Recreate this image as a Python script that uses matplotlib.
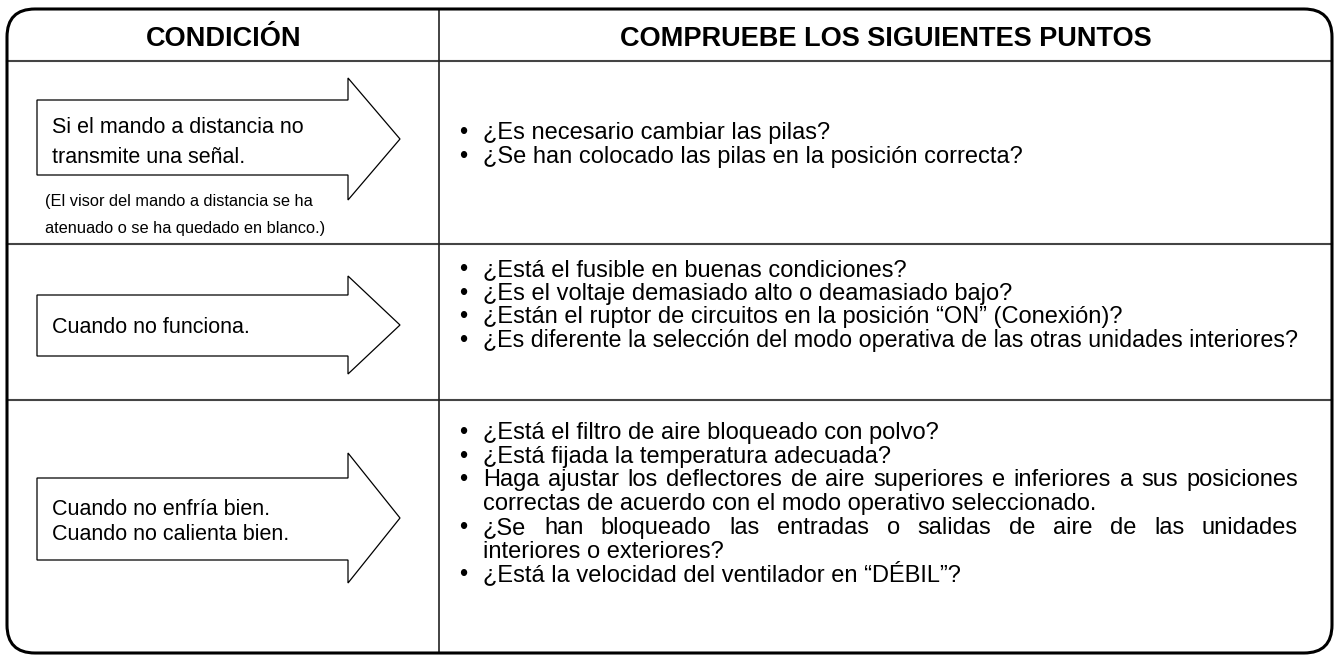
import matplotlib
matplotlib.use('Agg')
import matplotlib.pyplot as plt
from matplotlib.patches import FancyBboxPatch, Polygon

plt.rcParams['font.family'] = ['Liberation Sans', 'DejaVu Sans']

# table content
headers = ['CONDICIÓN', 'COMPRUEBE LOS SIGUIENTES PUNTOS']
conditions = [
    ['Si el mando a distancia no', 'transmite una señal.'],
    ['Cuando no funciona.'],
    ['Cuando no enfría bien.', 'Cuando no calienta bien.'],
]
notes = ['(El visor del mando a distancia se ha', 'atenuado o se ha quedado en blanco.)']
# each check: list of lines, True = justified line
checks = [
    [[('¿Es necesario cambiar las pilas?', False)],
     [('¿Se han colocado las pilas en la posición correcta?', False)]],
    [[('¿Está el fusible en buenas condiciones?', False)],
     [('¿Es el voltaje demasiado alto o deamasiado bajo?', False)],
     [('¿Están el ruptor de circuitos en la posición “ON” (Conexión)?', False)],
     [('¿Es diferente la selección del modo operativa de las otras unidades interiores?', False)]],
    [[('¿Está el filtro de aire bloqueado con polvo?', False)],
     [('¿Está fijada la temperatura adecuada?', False)],
     [('Haga ajustar los deflectores de aire superiores e inferiores a sus posiciones', True),
      ('correctas de acuerdo con el modo operativo seleccionado.', False)],
     [('¿Se han bloqueado las entradas o salidas de aire de las unidades', True),
      ('interiores o exteriores?', False)],
     [('¿Está la velocidad del ventilador en “DÉBIL”?', False)]],
]

# layout (pixels)
W, H = 1339, 656
box_l, box_r, box_t, box_b = 7, 1332, 9, 653
col_x = 439
head_y = 61
row_lines = [244, 400]
arrows = [  # body top, body bottom, head top, head bottom
    (100, 175, 78, 200),
    (295, 356, 276, 374),
    (478, 560, 453, 583),
]
cond_base = [[133, 163], [333], [515, 540]]
note_base = [206, 233]
check_base = [139.5, 276, 439]
line_h = 23.7

fig = plt.figure(figsize=(W / 100, H / 100), dpi=100)
ax = fig.add_axes([0, 0, 1, 1])
ax.set_xlim(0, W)
ax.set_ylim(H, 0)
ax.axis('off')

frame = FancyBboxPatch((box_l, box_t), box_r - box_l, box_b - box_t,
                       boxstyle='round,pad=0,rounding_size=28',
                       fc='none', ec='black', lw=2.2, zorder=3)
ax.add_patch(frame)
ax.plot([box_l, box_r], [head_y, head_y], color='#444444', lw=1.5, zorder=2)
for y in row_lines:
    ax.plot([box_l, box_r], [y, y], color='#444444', lw=1.5, zorder=2)
ax.plot([col_x, col_x], [box_t, box_b], color='#222222', lw=1.2, zorder=2)

ax.text(224, 46.5, headers[0], ha='center', va='baseline', fontsize=19.5, fontweight='bold', zorder=4)
ax.text(885.5, 46.5, headers[1], ha='center', va='baseline', fontsize=19.5, fontweight='bold', zorder=4)

# arrows
for bt, bb, ht, hb in arrows:
    mid = (ht + hb) / 2
    pts = [(37, bt), (348, bt), (348, ht), (400, mid), (348, hb), (348, bb), (37, bb)]
    ax.add_patch(Polygon(pts, closed=True, fc='white', ec='black', lw=0.9, zorder=4))

for lines, bases in zip(conditions, cond_base):
    for txt, yb in zip(lines, bases):
        ax.text(52, yb, txt, ha='left', va='baseline', fontsize=15.5, zorder=5)
for txt, yb in zip(notes, note_base):
    ax.text(45, yb, txt, ha='left', va='baseline', fontsize=11.8, zorder=5)

renderer = fig.canvas.get_renderer()
tx0, tx1 = 483, 1298
fs = 17


def put_line(y, text, justify):
    if not justify:
        t = ax.text(tx0, y, text, ha='left', va='baseline', fontsize=fs, zorder=5)
        w = t.get_window_extent(renderer).width
        if w > tx1 - tx0:
            t.set_fontsize(fs * (tx1 - tx0) / w)
        return
    words = text.split()
    objs = [ax.text(0, y, w, ha='left', va='baseline', fontsize=fs, zorder=5) for w in words]
    widths = [o.get_window_extent(renderer).width for o in objs]
    gap = (tx1 - tx0 - sum(widths)) / (len(words) - 1)
    x = tx0
    for o, w in zip(objs, widths):
        o.set_x(x)
        x += w + gap


for items, y0 in zip(checks, check_base):
    y = y0
    for item in items:
        ax.text(459, y, '•', ha='left', va='baseline', fontsize=fs, zorder=5)
        for txt, just in item:
            put_line(y, txt, just)
            y += line_h

fig.savefig('out.png', dpi=100)
